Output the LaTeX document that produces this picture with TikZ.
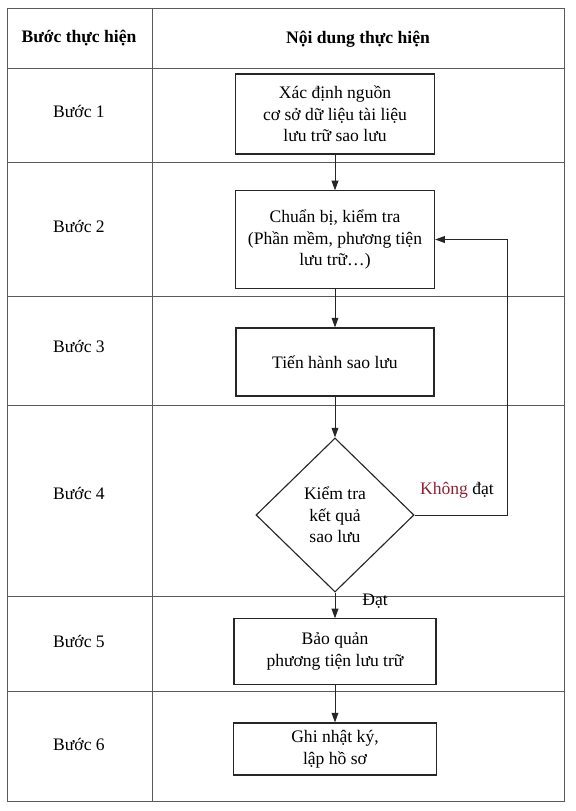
\documentclass[tikz,border=0pt]{standalone}
\usepackage{fontspec}
\setmainfont{Liberation Serif}
\usetikzlibrary{arrows.meta, positioning, shapes.geometric}
\definecolor{cgrid}{HTML}{5A5A5A}
\definecolor{cdark}{HTML}{262626}
\definecolor{cred}{HTML}{8A2434}
\tikzset{
  every picture/.style={line width=0.8pt},
  grid/.style={draw=cgrid, line width=0.6pt},
  stepbox/.style={draw=cdark, align=center, inner sep=3pt},
  check/.style={diamond, draw=cdark, align=center, inner sep=1pt},
  arrow/.style={-{Triangle[length=2.4mm, width=1.7mm]}, draw=cdark, line width=0.7pt},
  head/.style={font=\fontsize{12.5}{15.3}\selectfont\bfseries},
}

\begin{document}
\begin{tikzpicture}[x=0.025cm, y=-0.025cm, font=\fontsize{12.5}{15.3}\selectfont]
  \useasboundingbox (0,0) rectangle (576,811);
  % table frame
  \draw[grid] (7,8) rectangle (564,801);
  \draw[grid] (152,8) -- (152,801);
  \foreach \y in {68,162,296,405,596,691} {\draw[grid] (7,\y) -- (564,\y);}
  % header and step column
  \node[head] (hstep) at (79,38) {Bước thực hiện};
  \node[head] (hcont) at (358,39) {Nội dung thực hiện};
  \foreach \i/\y in {1/111,2/226,3/346,4/493,5/641,6/744} {
    \node (b\i) at (79,\y) {Bước \i};
  }
  % flow
  \node[stepbox, minimum width=4.98cm, minimum height=2cm] (s1) at (335,114) {Xác định nguồn\\cơ sở dữ liệu tài liệu\\lưu trữ sao lưu};
  \node[stepbox, minimum width=4.98cm, minimum height=2.43cm] (s2) at (335,239.5) {Chuẩn bị, kiểm tra\\(Phần mềm, phương tiện\\lưu trữ…)};
  \node[stepbox, minimum width=4.95cm, minimum height=1.7cm] (s3) at (335,362) {Tiến hành sao lưu};
  \node[check, minimum width=3.95cm, minimum height=3.85cm] (chk) at (335,515) {Kiểm tra\\kết quả\\sao lưu};
  \node[stepbox, minimum width=5.05cm, minimum height=1.63cm] (s5) at (335,651.5) {Bảo quản\\phương tiện lưu trữ};
  \node[stepbox, minimum width=5.08cm, minimum height=1.3cm] (s6) at (335,749) {Ghi nhật ký,\\lập hồ sơ};
  \draw[arrow] (s1) -- (s2);
  \draw[arrow] (s2) -- (s3);
  \draw[arrow] (s3) -- (chk);
  \draw[arrow] (chk) -- (s5);
  \draw[arrow] (s5) -- (s6);
  % loop back when the check fails
  \coordinate (fb) at (507,515);
  \draw[arrow] (chk.east) -- (fb) |- (s2.east);
  \node (nok) at (457,490) {\textcolor{cred}{Không} đạt};
  \node (ok) at (375,601) {Đạt};
\end{tikzpicture}
\end{document}
